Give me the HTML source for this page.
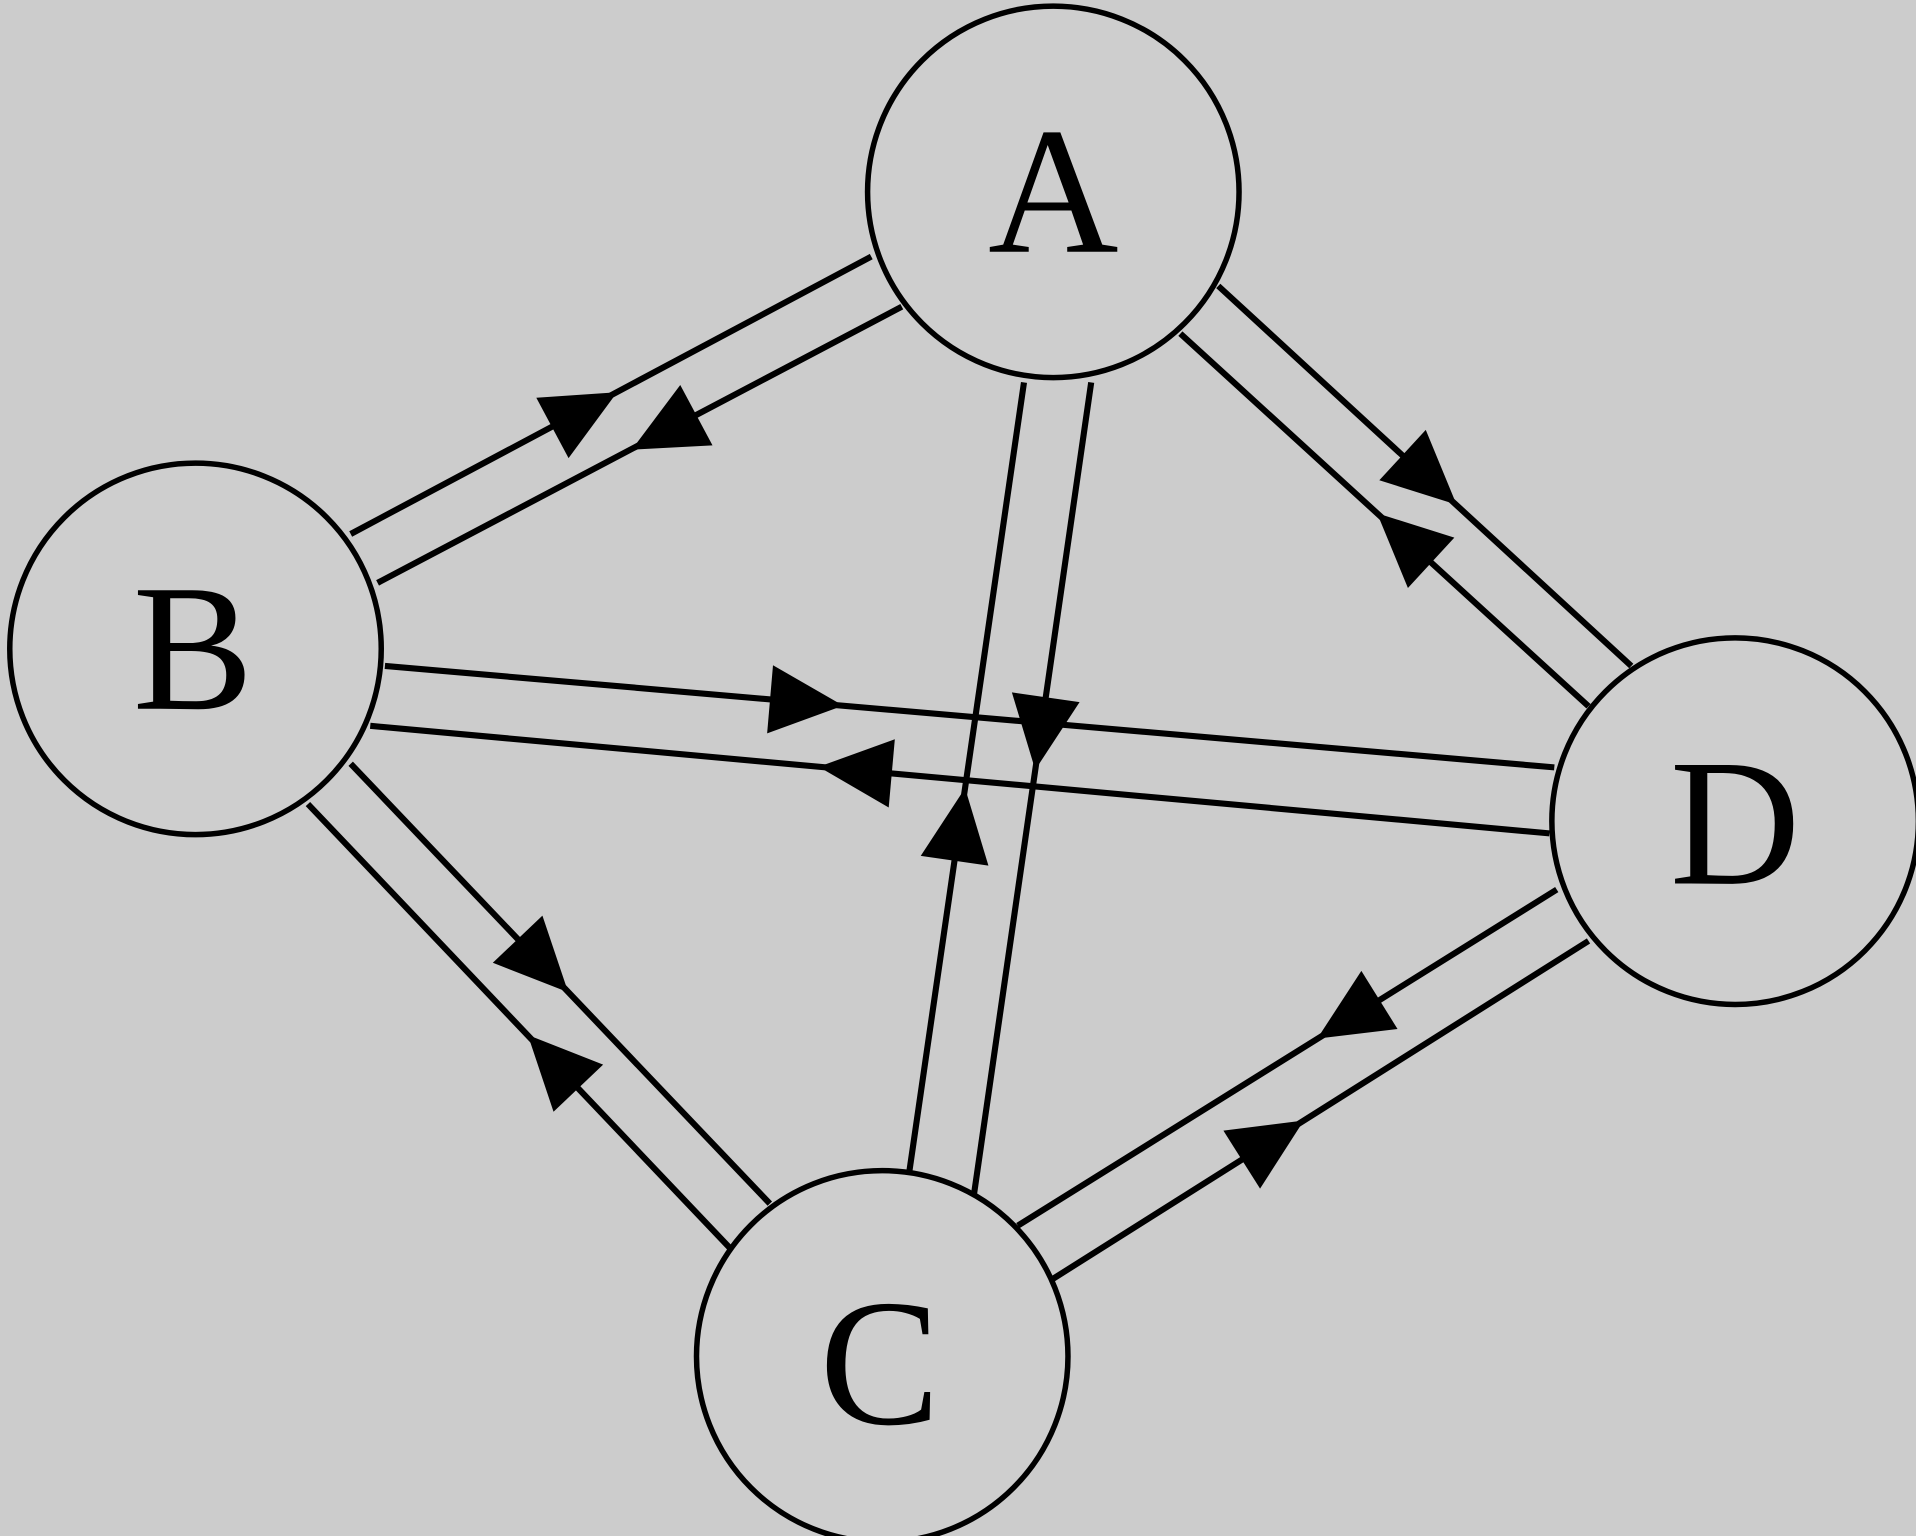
<!DOCTYPE html>
<html><head><meta charset="utf-8"><style>
html,body{margin:0;padding:0;background:#cccccc;}
svg{display:block;}
text{font-family:"Liberation Serif","Times New Roman",serif;}
</style></head><body>
<svg width="1916" height="1536" viewBox="0 0 1568 1257" preserveAspectRatio="none" xmlns="http://www.w3.org/2000/svg">
<rect width="1568" height="1257" fill="#cccccc"/>
<g stroke="#000" stroke-width="5" fill="none">
<line x1="713" y1="210" x2="287" y2="437"/>
<line x1="738" y1="251" x2="309" y2="477"/>
<line x1="997" y1="234" x2="1335" y2="545"/>
<line x1="966" y1="273" x2="1300" y2="578"/>
<line x1="838" y1="313" x2="744" y2="960"/>
<line x1="893" y1="313" x2="797" y2="978"/>
<line x1="315" y1="545" x2="1272" y2="628"/>
<line x1="303" y1="594" x2="1268" y2="682"/>
<line x1="287" y1="625" x2="630" y2="985"/>
<line x1="252" y1="658" x2="598" y2="1022"/>
<line x1="833" y1="1003" x2="1274" y2="728"/>
<line x1="861" y1="1047" x2="1300" y2="770"/>
</g>
<g fill="#000">
<polygon points="505,321 465.3,374.9 438.9,325.5"/>
<polygon points="517,368 583.1,364.5 556.7,315.1"/>
<polygon points="1192,413 1128.8,393 1166.8,351.8"/>
<polygon points="1127,420 1152.2,481.2 1190.2,440"/>
<polygon points="847.2,630 883.5,574.6 828.1,566.6"/>
<polygon points="789.8,645 808.9,708.4 753.5,700.4"/>
<polygon points="690,577.5 627.8,600.2 632.6,544.4"/>
<polygon points="670,627.5 732.3,605 727.3,660.8"/>
<polygon points="465,812 403.3,787.9 443.9,749.3"/>
<polygon points="432,847 493.6,871.2 453,909.8"/>
<polygon points="1078,850 1143.7,842.1 1114.1,794.5"/>
<polygon points="1067,917 1031.2,972.7 1001.2,925.3"/>
</g>
<g stroke="#000" stroke-width="4.5" fill="#cecece">
<circle cx="862" cy="157" r="152"/>
<circle cx="160" cy="531" r="152"/>
<circle cx="722" cy="1110" r="152"/>
<circle cx="1420" cy="672" r="150"/>
</g>
<g font-size="148" text-anchor="middle" fill="#000">
<text x="862" y="206">A</text>
<text x="158" y="580">B</text>
<text x="720" y="1165">C</text>
<text x="1420" y="723">D</text>
</g>
</svg>
</body></html>
